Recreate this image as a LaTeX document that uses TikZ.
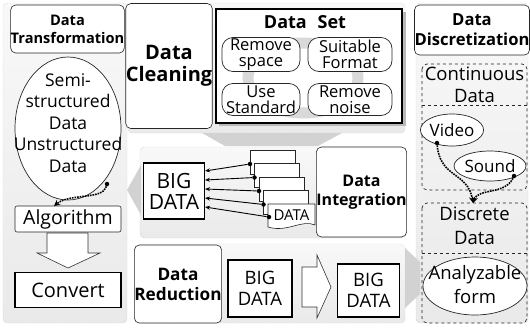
\documentclass[tikz,border=0pt]{standalone}
\usepackage{fontspec}
\setmainfont{Open Sans}
\usetikzlibrary{shapes.geometric,arrows.meta,calc}
\newcommand\myfs[2]{\fontsize{#1}{#2}\selectfont}
\begin{document}
\begin{tikzpicture}[x=1pt,y=-1pt,
  panel/.style={draw=gray!55, densely dotted, top color=gray!5, bottom color=gray!17, rounded corners=4pt},
  tbox/.style={draw=black!85, fill=white, rounded corners=5pt, line width=0.6pt, align=center, inner sep=0pt},
  thick box/.style={draw=black, fill=white, line width=1.8pt, align=center, inner sep=0pt},
  subbox/.style={draw=black!85, fill=white, rounded corners=11pt, line width=0.7pt, align=center, inner sep=0pt, font=\myfs{16.5}{16}},
  dashbox/.style={draw=black!85, dashed, rounded corners=5pt, line width=0.7pt},
  oval/.style={draw=black!85, fill=white, ellipse, line width=0.7pt, align=center, inner sep=0pt},
  hollow/.style={draw=black!80, fill=white, line width=0.6pt},
  gflow/.style={fill=gray!35},
  dotarrow/.style={densely dotted, line width=1.6pt, -{Stealth[length=6pt,width=6pt]}},
  ptr/.style={line width=0.9pt, -{Stealth[length=5pt,width=4pt]}},
  dotpt/.style={circle, fill=black, inner sep=0pt, minimum size=4.5pt},
  doc/.style={draw=black!85, fill=white, line width=0.6pt}
]
\useasboundingbox (0,0) rectangle (530,327);
\fill[white] (0,0) rectangle (530,327);

% background panels
\path[panel] (3,3) rectangle (127,323);
\path[panel] (128,3) rectangle (405,133);
\path[panel] (140,147) rectangle (405,238);
\path[panel] (138,244) rectangle (405,323);
\path[panel] (416,3) rectangle (528,323);

% gray flow arrows
\fill[gflow] (202,133) -- (342,133) -- (318,146) -- (225,146) -- cycle;
\fill[gflow] (141,165) -- (127,190) -- (141,215) -- cycle;
\fill[gflow] (405,248) -- (420,262) -- (420,294) -- (405,308) -- cycle;

% ---- Data Transformation column
\node[tbox, minimum width=109pt, minimum height=48pt, font=\bfseries\myfs{14.6}{18}] (ttl) at (67.5,29) {Data\\Transformation};
\node[oval, minimum width=106pt, minimum height=143pt] (semi) at (68,128.5) {};
\node[font=\myfs{17.5}{21.5}, align=center, inner sep=0pt] (semitxt) at (68,123) {Semi-\\structured\\Data\\Unstructured\\Data};
\node[dotpt] (semidot) at (107,184) {};
\node[tbox, rounded corners=2pt, minimum width=106pt, minimum height=26pt, font=\myfs{19.5}{22}] (alg) at (68,219) {Algorithm};
\coordinate (algin) at (54,206);
\draw[dotarrow] (semidot) .. controls (103,200) and (70,193) .. (algin);
\draw[hollow] (47,233) -- (88,233) -- (88,253) -- (100,253) -- (68,268) -- (37,253) -- (47,253) -- cycle;
\node[thick box, minimum width=106pt, minimum height=35pt, font=\myfs{20}{22}] (conv) at (68,290) {Convert};

% ---- Data Cleaning
\node[tbox, minimum width=78pt, minimum height=125pt, font=\bfseries\myfs{20}{22}] (clean) at (169,66) {Data\\Cleaning};
\fill[gray!55] (219,12) rectangle (406,126);
\node[thick box, draw=black, minimum width=186pt, minimum height=114pt, line width=2pt] (dset) at (309,65.5) {};
\draw[gray!30, line width=11pt] (303,78) ellipse (55 and 35);
\node[font=\bfseries\myfs{18}{20}] (dsettxt) at (305,22) {Data\hspace{0.6em}Set};
\node[subbox, minimum width=78pt, minimum height=34pt] (rs) at (261,54.5) {Remove\\space};
\node[subbox, minimum width=84pt, minimum height=34pt] (sf) at (350,54.5) {Suitable\\Format};
\node[subbox, minimum width=78pt, minimum height=32pt] (us) at (261,99.5) {Use\\Standard};
\node[subbox, minimum width=84pt, minimum height=32pt] (rn) at (350,99.5) {Remove\\noise};

% ---- Data Integration
\node[thick box, line width=1.6pt, minimum width=61pt, minimum height=56pt, font=\myfs{21}{21}] (big1) at (174,191) {BIG\\DATA};
\foreach \i in {0,...,3}{
  \draw[doc] ($(250,150)+(4.5*\i,13.5*\i)$) rectangle ++(45,24);
}
\draw[doc] (268,204) -- (315,204) -- (315,225) .. controls (302,219) and (287,233) .. (268,227) -- cycle;
\node[font=\myfs{15}{16}] (dtxt) at (291.5,215.5) {DATA};
\node[dotpt] (d1) at (250,164) {};
\node[dotpt] (d2) at (254.5,177.5) {};
\node[dotpt] (d3) at (259,191) {};
\node[dotpt] (d4) at (263.5,204.5) {};
\node[dotpt] (d5) at (269,217) {};
\coordinate (t1) at (205,171);
\coordinate (t2) at (205,180);
\coordinate (t3) at (205,189);
\coordinate (t4) at (205,198);
\coordinate (t5) at (205,207);
\foreach \k in {1,...,5}{\draw[ptr] (d\k) -- (t\k);}
\node[tbox, minimum width=83pt, minimum height=90pt, font=\bfseries\myfs{16}{19}] (integ) at (361.5,192) {Data\\Integration};

% ---- Data Reduction
\node[tbox, minimum width=80pt, minimum height=78pt, font=\bfseries\myfs{17.2}{20}] (red) at (178,284) {Data\\Reduction};
\node[thick box, line width=1.6pt, minimum width=64pt, minimum height=57pt, font=\myfs{18.5}{21}] (big2) at (260,288.5) {BIG\\DATA};
\draw[hollow] (302,267) -- (317,267) -- (317,255) -- (331,287) -- (317,318) -- (317,307) -- (302,307) -- cycle;
\node[thick box, line width=1.6pt, minimum width=62pt, minimum height=53pt, font=\myfs{18.5}{21}] (big3) at (368.5,290.5) {BIG\\DATA};

% ---- Data Discretization
\node[tbox, minimum width=112pt, minimum height=50pt, font=\bfseries\myfs{16.6}{20}] (disc) at (472,30) {Data\\Discretization};
\draw[dashbox] (422,64) rectangle (527,190);
\draw[black!85, dashed, line width=0.7pt] (422,105) -- (527,105);
\node[font=\myfs{18.5}{22}, align=center, inner sep=0pt] (cont) at (474.5,85) {Continuous\\Data};
\node[oval, minimum width=49pt, minimum height=32pt, font=\myfs{17}{18}] (video) at (452,130) {Video};
\node[oval, minimum width=59pt, minimum height=30pt, font=\myfs{17}{18}] (sound) at (490,166) {Sound};
\node[dotpt] (vdot) at (437,143) {};
\node[dotpt] (sdot) at (514,176) {};
\node[font=\myfs{18.5}{24}, align=center, inner sep=0pt] (discr) at (474.5,226) {Discrete\\Data};
\draw[dashbox] (422,203) rectangle (527,323);
\draw[black!85, dashed, line width=0.7pt] (422,253) -- (527,253);
\node[oval, minimum width=104pt, minimum height=58pt] (anal) at (475,286) {};
\node[font=\myfs{18.5}{24}, align=center, inner sep=0pt] (analtxt) at (475,285) {Analyzable\\form};
\coordinate (mid) at (473,203);
\draw[dotarrow] (vdot) .. controls (440,178) and (468,172) .. (mid);
\draw[dotarrow] (sdot) .. controls (505,195) and (478,188) .. (mid);
\end{tikzpicture}
\end{document}
